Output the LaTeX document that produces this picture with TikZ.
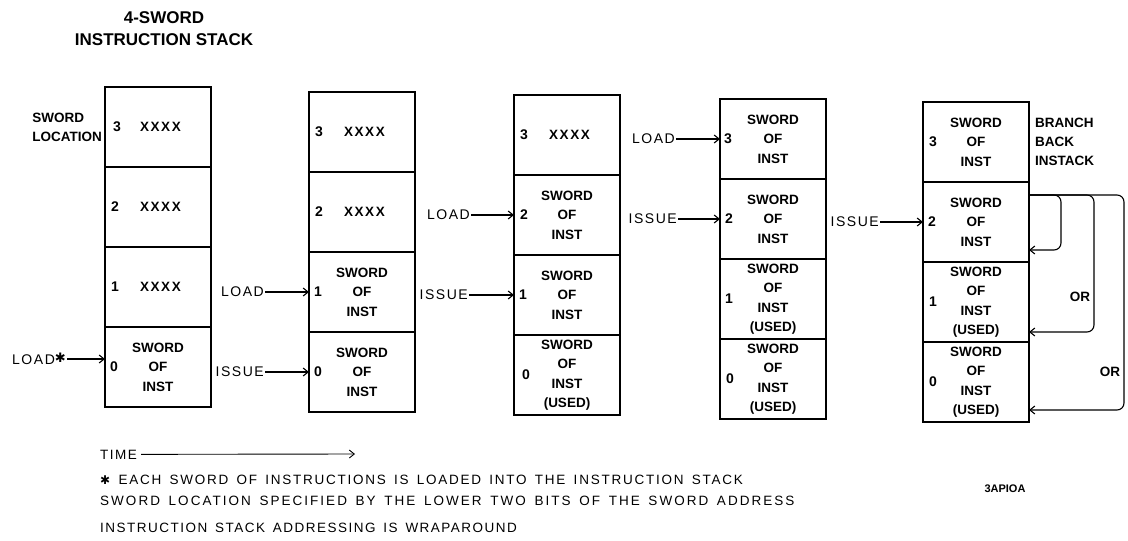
\documentclass[tikz,border=0pt]{standalone}
\usepackage{fontspec}
\setmainfont{Liberation Sans}
\newfontfamily\notefont{Liberation Sans}[LetterSpace=11,WordSpace=1.5]
\newfontfamily\symfont{DejaVu Sans}
\usetikzlibrary{arrows.meta,positioning}

\begin{document}
\begin{tikzpicture}[x=1pt,y=-1pt,
  cell/.style={draw,line width=1.6pt,minimum width=106pt,minimum height=80pt,
    inner sep=0pt,outer sep=0pt,align=center,
    font=\fontsize{13.5}{19.5}\selectfont\bfseries},
  num/.style={anchor=west,inner sep=0pt,font=\fontsize{14}{16}\selectfont\bfseries},
  tag/.style={inner sep=0pt,align=left,font=\fontsize{13.5}{19}\selectfont\bfseries},
  lbl/.style={inner sep=1pt,font=\notefont\fontsize{14}{16}\selectfont},
  note/.style={inner sep=0pt,anchor=base west,font=\notefont\fontsize{13.5}{15}\selectfont},
  arr/.style={-{Straight Barb[length=5pt,width=8pt]},line width=1.1pt},
  back/.style={arr,rounded corners=7pt}]
  \useasboundingbox (0,0) rectangle (1128,541);

  % Title
  \node[font=\fontsize{17}{22}\selectfont\bfseries,align=center] (title) at (164,29)
    {4-SWORD\\INSTRUCTION STACK};

  % Stack 1
  \node[cell] (s1c3) at (158,127) {\hspace{5pt}X\kern1.5pt X\kern1.5pt X\kern1.5pt X};
  \node[cell,below=0pt of s1c3] (s1c2) {\hspace{5pt}X\kern1.5pt X\kern1.5pt X\kern1.5pt X};
  \node[cell,below=0pt of s1c2] (s1c1) {\hspace{5pt}X\kern1.5pt X\kern1.5pt X\kern1.5pt X};
  \node[cell,below=0pt of s1c1] (s1c0) {SWORD\\OF\\INST};
  \node[num] (s1n3) at ([xshift=8pt]s1c3.west) {3};
  \node[num] (s1n2) at ([xshift=6pt]s1c2.west) {2};
  \node[num] (s1n1) at ([xshift=6pt]s1c1.west) {1};
  \node[num] (s1n0) at ([xshift=5pt]s1c0.west) {0};
  \node[tag,left=3pt of s1c3] (loc) {SWORD\\LOCATION};
  \node[lbl,left=38pt of s1c0,yshift=8pt] (ld1)
    {LOAD\raisebox{2pt}{\symfont\fontsize{13}{14}\selectfont ✱}};
  \draw[arr] (ld1.east) -- (ld1.east -| s1c0.west);

  % Stack 2
  \node[cell] (s2c3) at (362,132) {\hspace{5pt}X\kern1.5pt X\kern1.5pt X\kern1.5pt X};
  \node[cell,below=0pt of s2c3] (s2c2) {\hspace{5pt}X\kern1.5pt X\kern1.5pt X\kern1.5pt X};
  \node[cell,below=0pt of s2c2] (s2c1) {SWORD\\OF\\INST};
  \node[cell,below=0pt of s2c1] (s2c0) {SWORD\\OF\\INST};
  \node[num] (s2n3) at ([xshift=6pt]s2c3.west) {3};
  \node[num] (s2n2) at ([xshift=6pt]s2c2.west) {2};
  \node[num] (s2n1) at ([xshift=5pt]s2c1.west) {1};
  \node[num] (s2n0) at ([xshift=5pt]s2c0.west) {0};
  \node[lbl,left=44pt of s2c1] (ld2) {LOAD};
  \node[lbl,left=44pt of s2c0] (is2) {ISSUE};
  \draw[arr] (ld2) -- (s2c1);
  \draw[arr] (is2) -- (s2c0);

  % Stack 3
  \node[cell] (s3c3) at (567,135) {\hspace{5pt}X\kern1.5pt X\kern1.5pt X\kern1.5pt X};
  \node[cell,below=0pt of s3c3] (s3c2) {SWORD\\OF\\INST};
  \node[cell,below=0pt of s3c2] (s3c1) {SWORD\\OF\\INST};
  \node[cell,below=0pt of s3c1] (s3c0) {SWORD\\OF\\INST\\(USED)};
  \node[num] (s3n3) at ([xshift=6pt]s3c3.west) {3};
  \node[num] (s3n2) at ([xshift=6pt]s3c2.west) {2};
  \node[num] (s3n1) at ([xshift=5pt]s3c1.west) {1};
  \node[num] (s3n0) at ([xshift=8pt]s3c0.west) {0};
  \node[lbl,left=43pt of s3c2] (ld3) {LOAD};
  \node[lbl,left=45pt of s3c1] (is3) {ISSUE};
  \draw[arr] (ld3) -- (s3c2);
  \draw[arr] (is3) -- (s3c1);

  % Stack 4
  \node[cell] (s4c3) at (773,139) {SWORD\\OF\\INST};
  \node[cell,below=0pt of s4c3] (s4c2) {SWORD\\OF\\INST};
  \node[cell,below=0pt of s4c2] (s4c1) {SWORD\\OF\\INST\\(USED)};
  \node[cell,below=0pt of s4c1] (s4c0) {SWORD\\OF\\INST\\(USED)};
  \node[num] (s4n3) at ([xshift=4pt]s4c3.west) {3};
  \node[num] (s4n2) at ([xshift=5pt]s4c2.west) {2};
  \node[num] (s4n1) at ([xshift=5pt]s4c1.west) {1};
  \node[num] (s4n0) at ([xshift=6pt]s4c0.west) {0};
  \node[lbl,left=44pt of s4c3] (ld4) {LOAD};
  \node[lbl,left=42pt of s4c2] (is4) {ISSUE};
  \draw[arr] (ld4) -- (s4c3);
  \draw[arr] (is4) -- (s4c2);

  % Stack 5
  \node[cell] (s5c3) at (976,142) {SWORD\\OF\\INST};
  \node[cell,below=0pt of s5c3] (s5c2) {SWORD\\OF\\INST};
  \node[cell,below=0pt of s5c2] (s5c1) {SWORD\\OF\\INST\\(USED)};
  \node[cell,below=0pt of s5c1] (s5c0) {SWORD\\OF\\INST\\(USED)};
  \node[num] (s5n3) at ([xshift=6pt]s5c3.west) {3};
  \node[num] (s5n2) at ([xshift=5pt]s5c2.west) {2};
  \node[num] (s5n1) at ([xshift=6pt]s5c1.west) {1};
  \node[num] (s5n0) at ([xshift=6pt]s5c0.west) {0};
  \node[lbl,left=43pt of s5c2] (is5) {ISSUE};
  \draw[arr] (is5) -- (s5c2);
  \node[tag,right=6pt of s5c3] (brb) {BRANCH\\BACK\\INSTACK};

  % Branch back paths
  \coordinate[yshift=-13pt] (bbk) at (s5c2.north east);
  \coordinate[yshift=12pt] (bk2) at (s5c2.south east);
  \coordinate[yshift=10pt] (bk1) at (s5c1.south east);
  \coordinate[yshift=12pt] (bk0) at (s5c0.south east);
  \draw[back] (bbk) -| ([xshift=32pt]bk2) -- (bk2);
  \draw[back] (bbk) -| ([xshift=65pt]bk1) -- (bk1);
  \draw[back] (bbk) -| ([xshift=95pt]bk0) -- (bk0);
  \node[tag] (or1) at (1080,297) {OR};
  \node[tag] (or2) at (1110,372) {OR};

  % Notes
  \node[note] (tm) at (100,459) {TIME};
  \coordinate (tmend) at (355,454);
  \draw[arr,line width=0.9pt] ([xshift=4pt]tm.east) -- (tmend);
  \node[note] (nt1) at (100,484)
    {\addfontfeature{LetterSpace=13}{\symfont\fontsize{12}{14}\selectfont ✱} EACH SWORD OF INSTRUCTIONS IS LOADED INTO THE INSTRUCTION STACK};
  \node[note] (nt2) at (100,505)
    {\addfontfeature{LetterSpace=15}SWORD LOCATION SPECIFIED BY THE LOWER TWO BITS OF THE SWORD ADDRESS};
  \node[note] (nt3) at (100,532)
    {\addfontfeature{LetterSpace=11}INSTRUCTION STACK ADDRESSING IS WRAPAROUND};
  \node[font=\fontsize{11}{13}\selectfont\bfseries] (fig) at (1005,489) {3APIOA};
\end{tikzpicture}
\end{document}
